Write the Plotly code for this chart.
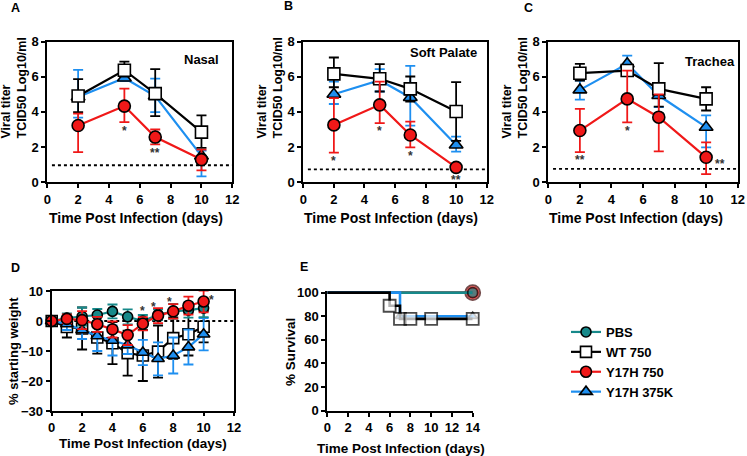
import plotly.graph_objects as go

# ---------------- data ----------------
days_titer = [2, 5, 7, 10]

# Panel A - Nasal (mean, upper bar end, lower bar end)
nasal_wt = [4.90, 6.37, 5.04, 2.85]
nasal_wt_hi = [5.86, 6.86, 6.43, 3.80]
nasal_wt_lo = [3.99, 6.00, 3.76, 1.96]
nasal_375 = [4.85, 5.93, 4.90, 1.50]
nasal_375_hi = [6.39, 6.12, 5.89, 1.80]
nasal_375_lo = [3.67, 5.75, 3.99, 0.34]
nasal_750 = [3.23, 4.33, 2.57, 1.29]
nasal_750_hi = [3.90, 5.32, 3.00, 1.86]
nasal_750_lo = [1.71, 3.42, 2.15, 0.68]
nasal_lod = 0.97

# Panel B - Soft palate
sp_wt = [6.16, 5.88, 5.31, 4.02]
sp_wt_hi = [7.09, 6.71, 6.01, 5.69]
sp_wt_lo = [5.40, 5.16, 4.59, 2.35]
sp_375 = [5.00, 5.80, 4.82, 2.12]
sp_375_hi = [5.72, 6.43, 6.62, 2.60]
sp_375_lo = [4.45, 5.16, 3.22, 1.74]
sp_750 = [3.26, 4.40, 2.69, 0.85]
sp_750_hi = [4.78, 5.72, 3.45, 0.95]
sp_750_lo = [1.69, 3.36, 1.99, 0.75]
sp_lod = 0.74

# Panel C - Trachea
tr_wt = [6.20, 6.35, 5.31, 4.74]
tr_wt_hi = [6.73, 6.60, 6.77, 5.40]
tr_wt_lo = [5.78, 6.10, 4.30, 4.08]
tr_375 = [5.25, 6.73, 4.93, 3.13]
tr_375_hi = [5.78, 7.20, 5.60, 3.80]
tr_375_lo = [4.70, 6.16, 4.27, 1.99]
tr_750 = [2.94, 4.74, 3.70, 1.42]
tr_750_hi = [4.17, 6.35, 5.00, 2.27]
tr_750_lo = [1.71, 3.41, 1.76, 0.47]
tr_lod = 0.76

# Panel D - weight (% of starting)
days_weight = [0, 1, 2, 3, 4, 5, 6, 7, 8, 9, 10]
w_pbs = [0, 1.0, 1.5, 2.0, 3.2, 1.4, 0.0, 2.1, 3.2, 3.6, 4.3]
w_pbs_err = [0, 1.5, 3.0, 2.0, 2.3, 2.5, 2.0, 1.8, 2.5, 2.5, 3.0]
w_wt = [0, -2.0, -2.5, -5.5, -7.4, -10.7, -11.5, -10.2, -5.7, -4.4, -1.9]
w_wt_err = [0, 3.5, 7.0, 5.4, 7.0, 7.5, 8.5, 8.7, 6.9, 7.1, 5.2]
w_375 = [0, -1.0, -3.0, -5.0, -6.5, -8.0, -10.5, -12.6, -11.5, -8.7, -4.4]
w_375_err = [0, 2.0, 3.0, 5.0, 5.0, 3.0, 4.2, 5.5, 6.0, 5.8, 5.4]
w_750 = [0, 0.7, 0.3, -1.1, -2.8, -4.7, -0.9, 1.8, 3.2, 5.1, 6.5]
w_750_err = [0, 1.5, 3.0, 2.5, 2.7, 3.3, 2.2, 2.5, 2.4, 3.0, 3.6]

# Panel E - survival
surv_pbs_t = [0, 14]
surv_pbs = [100, 100]
surv_wt_t = [0, 6, 7, 8, 10, 14]
surv_wt = [100, 88.9, 77.8, 77.8, 77.8, 77.8]
surv_375_t = [0, 7, 14]
surv_375 = [100, 80, 80]
surv_750_t = [0, 14]
surv_750 = [100, 100]

# significance stars: (panel, x, y, text)
stars_panel = ["A", "A", "B", "B", "B", "B", "C", "C", "C", "D", "D", "D", "D"]
stars_x = [5, 7, 2, 5, 7, 10, 2, 5, 10.9, 5.96, 6.7, 7.75, 10.5]
stars_y = [3.1, 1.86, 1.36, 3.07, 1.65, 0.32, 1.42, 3.07, 1.23, 4.3, 5.7, 7.3, 7.9]
stars_text = ["*", "**", "*", "*", "*", "**", "**", "*", "**", "*", "*", "*", "*"]

# ---------------- styling ----------------
FONT = "Liberation Sans, Arial, Helvetica, sans-serif"
BLACK = "#000000"
BLUE = "#1E8FF0"
RED = "#F01818"
TEAL = "#17898A"
W, H = 747, 456

fig = go.Figure()


def err(mean, hi, lo):
    return dict(type="data", symmetric=False,
                array=[h - m for h, m in zip(hi, mean)],
                arrayminus=[m - l for m, l in zip(mean, lo)])


def add_series(ax, x, y, e, color, fill, symbol, size, name=None, legend=False, rank=None, lw=2.2):
    e = dict(e)
    e.update(color=color, thickness=1.8, width=5)
    s = "" if ax == 1 else str(ax)
    fig.add_trace(go.Scatter(
        x=x, y=y, mode="lines+markers", name=name, showlegend=legend,
        legendrank=rank if rank else 1000,
        xaxis="x" + s, yaxis="y" + s,
        line=dict(color=color, width=lw),
        marker=dict(symbol=symbol, size=size, color=fill, line=dict(color=BLACK, width=1.6)),
        error_y=e, cliponaxis=False))


# Panels A-C: order blue, black, red
panels = [
    (1, nasal_375, nasal_375_hi, nasal_375_lo, nasal_wt, nasal_wt_hi, nasal_wt_lo, nasal_750, nasal_750_hi, nasal_750_lo),
    (2, sp_375, sp_375_hi, sp_375_lo, sp_wt, sp_wt_hi, sp_wt_lo, sp_750, sp_750_hi, sp_750_lo),
    (3, tr_375, tr_375_hi, tr_375_lo, tr_wt, tr_wt_hi, tr_wt_lo, tr_750, tr_750_hi, tr_750_lo),
]
for ax, b, bh, bl, k, kh, kl, r, rh, rl in panels:
    add_series(ax, days_titer, b, err(b, bh, bl), BLUE, BLUE, "triangle-up", 12)
    add_series(ax, days_titer, k, err(k, kh, kl), BLACK, "white", "square", 12)
    add_series(ax, days_titer, r, err(r, rh, rl), RED, RED, "circle", 12)


# Panel D
def sym(e):
    return dict(type="data", symmetric=True, array=e)


add_series(4, days_weight, w_wt, sym(w_wt_err), BLACK, "white", "square", 11, "WT 750", True, 2)
add_series(4, days_weight, w_375, sym(w_375_err), BLUE, BLUE, "triangle-up", 11, "Y17H 375K", True, 4)
add_series(4, days_weight, w_pbs, sym(w_pbs_err), TEAL, TEAL, "circle", 10, "PBS", True, 1)
add_series(4, days_weight, w_750, sym(w_750_err), RED, RED, "circle", 11, "Y17H 750", True, 3)


# Panel E (survival, step lines)
def add_surv(t, s, color, fill, symbol, size, outline=BLACK, lw=2.6):
    sizes = [size] * len(t)
    sizes[0] = 0
    fig.add_trace(go.Scatter(
        x=t, y=s, mode="lines+markers", showlegend=False, xaxis="x5", yaxis="y5",
        line=dict(color=color, width=lw, shape="hv"),
        marker=dict(symbol=symbol, size=sizes, color=fill, line=dict(color=outline, width=1.8)),
        cliponaxis=False))


add_surv(surv_750_t, surv_750, RED, RED, "circle", 15, outline="#3a0000")
add_surv(surv_pbs_t, surv_pbs, TEAL, TEAL, "circle", 10, lw=2.8)
add_surv(surv_375_t, surv_375, BLUE, BLUE, "triangle-up", 8)
add_surv(surv_wt_t, surv_wt, BLACK, "white", "square", 12)


# ---------------- axes ----------------
def px_dom_x(a, b):
    return [a / W, b / W]


def px_dom_y(top, bot):
    return [1 - bot / H, 1 - top / H]


tickfont = dict(family=FONT, size=13, color=BLACK, weight="bold")
common = dict(showgrid=False, zeroline=False, showline=True, linecolor=BLACK, linewidth=2,
              ticks="outside", tickwidth=1.8, tickcolor=BLACK, tickfont=tickfont,
              automargin=False)

doms = {
    1: (px_dom_x(47.3, 232.3), px_dom_y(41.5, 182.3), [0, 12], 2, [0, 8], 2, True, 4),
    2: (px_dom_x(303.3, 486.7), px_dom_y(41.5, 182.3), [0, 12], 2, [0, 8], 2, True, 4),
    3: (px_dom_x(548.3, 737.7), px_dom_y(41.5, 182.3), [0, 12], 2, [0, 8], 2, True, 4),
    4: (px_dom_x(51.7, 234.0), px_dom_y(291, 411), [0, 12], 2, [-30, 10], 10, True, 3),
    # small headroom above 100 so the 100 % lines are not clipped
    5: (px_dom_x(327.3, 472.7), px_dom_y(290.9, 410.7), [0, 14], 2, [0, 101.5], 20, False, 4),
}
layout_axes = {}
for i, (dx, dy, xr, xd, yr, yd, mir, tl) in doms.items():
    s = "" if i == 1 else str(i)
    layout_axes["xaxis" + s] = dict(domain=dx, range=xr, dtick=xd, tick0=0, anchor="y" + s,
                                    mirror=mir, ticklen=tl, **common)
    layout_axes["yaxis" + s] = dict(domain=dy, range=yr, dtick=yd, tick0=yr[0], anchor="x" + s,
                                    mirror=mir, ticklen=4, **common)
fig.update_layout(**layout_axes)

# ---------------- shapes (limit of detection / baseline) ----------------
shapes = []
for ax, lod in [(1, nasal_lod), (2, sp_lod), (3, tr_lod), (4, 0)]:
    s = "" if ax == 1 else str(ax)
    shapes.append(dict(type="line", xref="x" + s, yref="y" + s, x0=0.3, x1=12, y0=lod, y1=lod,
                       line=dict(color=BLACK, width=1.8, dash="dot"), layer="below"))
fig.update_layout(shapes=shapes)

# ---------------- annotations ----------------
ann = []


def txt(x, y, text, size, angle=0, xanchor="center", yanchor="middle", align="center"):
    ann.append(dict(x=x, y=y, xref="paper", yref="paper", text=text, showarrow=False, textangle=angle,
                    xanchor=xanchor, yanchor=yanchor, align=align,
                    font=dict(family=FONT, size=size, color=BLACK, weight="bold")))


# panel letters
for L, (x, y) in {"A": (15, 8), "B": (288, 6), "C": (528, 8), "D": (15, 268), "E": (304, 267)}.items():
    txt(x / W, 1 - y / H, L, 12.5)

# y titles (two lines, starting at the same height)
for x0 in [13, 269, 514]:
    txt(x0 / W, 1 - 141 / H, "Viral titer<br>TCID50 Log10/ml", 12.5, angle=-90,
        yanchor="bottom", align="left")
txt(13 / W, 1 - 351 / H, "% starting weight", 13, angle=-90)
txt(290 / W, 1 - 352 / H, "% Survival", 13.5, angle=-90)

# x titles
for cx, cy, fs in [(136, 218, 14), (391, 218, 14), (636, 218, 14), (143, 443, 13.5), (401, 448, 13.5)]:
    txt(cx / W, 1 - cy / H, "Time Post Infection (days)", fs)

# tissue labels
txt(202 / W, 1 - 60 / H, "Nasal", 13)
txt(443 / W, 1 - 52 / H, "Soft Palate", 13)
txt(710 / W, 1 - 61 / H, "Trachea", 13)

# stars
pmap = {"A": "", "B": "2", "C": "3", "D": "4"}
for p, x, y, t in zip(stars_panel, stars_x, stars_y, stars_text):
    ann.append(dict(x=x, y=y, xref="x" + pmap[p], yref="y" + pmap[p], text=t, showarrow=False,
                    yshift=-3, font=dict(family=FONT, size=12, color="#333333", weight="bold")))

fig.update_layout(annotations=ann)

fig.update_layout(
    width=W, height=H, margin=dict(l=0, r=0, t=0, b=0, autoexpand=False),
    paper_bgcolor="white", plot_bgcolor="white",
    font=dict(family=FONT, color=BLACK),
    legend=dict(x=566 / W, y=1 - 317 / H, xanchor="left", yanchor="top",
                font=dict(family=FONT, size=13, color=BLACK, weight="bold"),
                bgcolor="rgba(0,0,0,0)", tracegroupgap=0, itemsizing="trace"),
)

fig.write_html("out.html", config={"displayModeBar": False},
               post_script="document.body.style.margin='0px';document.body.style.overflow='hidden';")
